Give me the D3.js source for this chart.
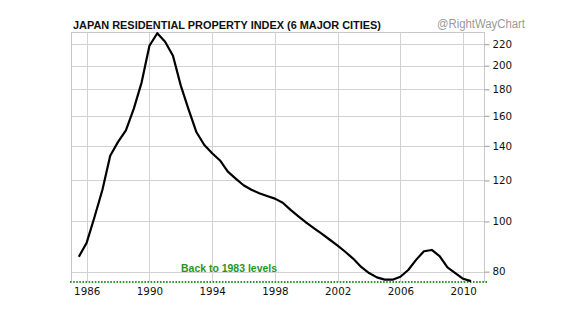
<!DOCTYPE html>
<html><head><meta charset="utf-8">
<script src="https://cdn.jsdelivr.net/npm/d3@7"></script>
<style>body{margin:0;background:#fff;}svg{display:block;}</style>
</head><body>
<svg id="c" width="578" height="325"></svg>
<script>
const titleText = "JAPAN RESIDENTIAL PROPERTY INDEX (6 MAJOR CITIES)";
const watermark = "@RightWayChart";
const annotation = "Back to 1983 levels";
const years = [1985.5,1986,1986.5,1987,1987.5,1988,1988.5,1989,1989.5,1990,1990.5,1991,1991.5,1992,1992.5,1993,1993.5,1994,1994.5,1995,1995.5,1996,1996.5,1997,1997.5,1998,1998.5,1999,1999.5,2000,2000.5,2001,2001.5,2002,2002.5,2003,2003.5,2004,2004.5,2005,2005.5,2006,2006.5,2007,2007.5,2008,2008.5,2009,2009.5,2010,2010.5];
const values = [85.5,91.0,102,115,134,142.5,150,165,185.5,218.5,231,222.4,209,183,164.5,148.7,140.5,135.5,131.2,124.8,121,117.5,115.2,113.4,112,110.7,108.7,105.3,102.3,99.5,97,94.6,92.2,89.8,87.3,84.7,81.7,79.5,78,77.2,77.2,78.2,80.6,84.3,87.6,88.1,85.7,81.5,79.5,77.5,76.7];
const xTicks = [1986,1990,1994,1998,2002,2006,2010];
const yTicks = [80,100,120,140,160,180,200,220];
const level1983 = 76.4;

const svg = d3.select("#c");
const L = 71, R = 484, T = 32, B = 282;
const x = d3.scaleLinear().domain([1985, 2011.33]).range([L, R]);
const y = d3.scaleLog().domain([76.4, 232.3]).range([B, T]);

// gridlines
const grid = svg.append("g").attr("stroke", "#d2d2d2").attr("stroke-width", 1).attr("shape-rendering","crispEdges");
grid.selectAll(".v").data(xTicks).join("line")
  .attr("x1", d => Math.round(x(d)) + 0.5).attr("x2", d => Math.round(x(d)) + 0.5)
  .attr("y1", T).attr("y2", B);
grid.selectAll(".h").data(yTicks).join("line")
  .attr("x1", L).attr("x2", R)
  .attr("y1", d => Math.round(y(d)) + 0.5).attr("y2", d => Math.round(y(d)) + 0.5);
// frame
svg.append("path").attr("d", `M${L+0.5},${B}V${T+0.5}H${R+0.5}V${B}`)
  .attr("fill","none").attr("stroke","#c8c8c8").attr("shape-rendering","crispEdges");

// right axis
const yAxis = d3.axisRight(y).tickValues(yTicks).tickFormat(d3.format("d")).tickSize(5).tickPadding(3);
const ga = svg.append("g").attr("transform", `translate(${R+0.5},0)`).call(yAxis);
ga.select(".domain").remove();
ga.selectAll(".tick line").attr("stroke", "#999");
ga.selectAll(".tick text").attr("fill", "#111").style("font-family", "'DejaVu Sans', Verdana, sans-serif").style("font-size", "10.3px");

// bottom axis labels
const xAxis = d3.axisBottom(x).tickValues(xTicks).tickFormat(d3.format("d")).tickSize(0).tickPadding(6);
const gx = svg.append("g").attr("transform", `translate(0,${B})`).call(xAxis);
gx.select(".domain").remove();
gx.selectAll(".tick text").attr("fill", "#111").style("font-family", "'DejaVu Sans', Verdana, sans-serif").style("font-size", "10.3px");

// 1983 level dotted line
svg.append("line").attr("x1", 70).attr("x2", 488)
  .attr("y1", y(level1983)).attr("y2", y(level1983))
  .attr("stroke", "#2a9a2a").attr("stroke-width", 2).attr("stroke-dasharray", "1.6,1.5");

// data line
const line = d3.line().x((d, i) => x(years[i])).y(d => y(d)).curve(d3.curveLinear);
svg.append("path").datum(values).attr("d", line)
  .attr("fill", "none").attr("stroke", "#000").attr("stroke-width", 2.2).attr("stroke-linejoin","round");

// annotation
svg.append("text").attr("x", 181).attr("y", 272).text(annotation)
  .attr("fill", "#1f961f").style("font-family", "'Liberation Sans', Arial, sans-serif")
  .style("font-weight", "bold").style("font-size", "11px")
  .attr("textLength", 96).attr("lengthAdjust", "spacingAndGlyphs");

// title
svg.append("text").attr("x", 73).attr("y", 29.3).text(titleText)
  .attr("fill", "#111").style("font-family", "'Liberation Sans', Arial, sans-serif")
  .style("font-weight", "bold").style("font-size", "11px")
  .attr("textLength", 308).attr("lengthAdjust", "spacingAndGlyphs");

// watermark
svg.append("text").attr("x", 437).attr("y", 28).text(watermark)
  .attr("fill", "#9a9a9a").style("font-family", "'Liberation Sans', Arial, sans-serif")
  .style("font-size", "12px")
  .attr("textLength", 88).attr("lengthAdjust", "spacingAndGlyphs");
</script>
</body></html>
